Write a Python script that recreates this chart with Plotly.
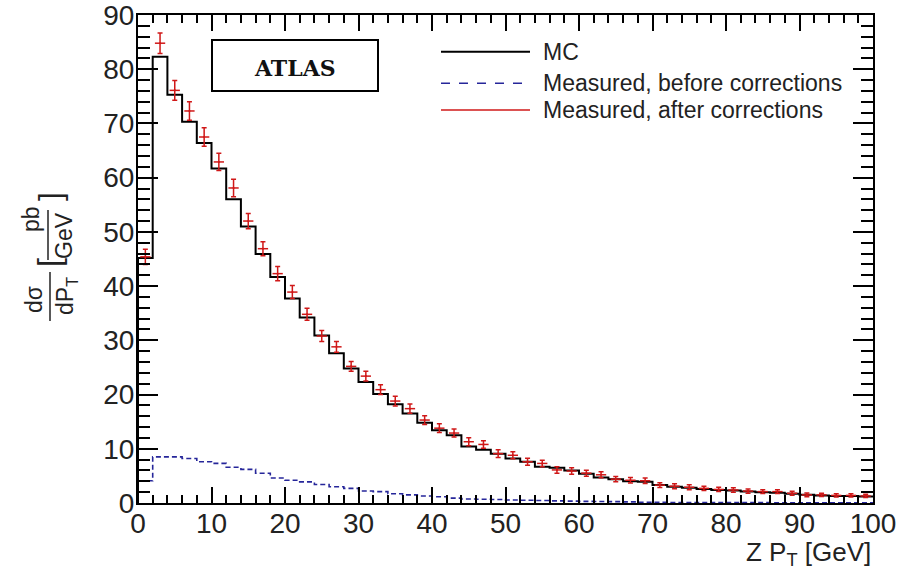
import numpy as np
import plotly.graph_objects as go

# ---------------- data ----------------
bin_width = 2.0
n_bins = 50

mc = [45.2, 82.3, 75.3, 70.3, 66.4, 61.7, 56.0, 51.0, 45.9, 41.7,
      37.7, 34.2, 30.9, 27.6, 24.8, 22.3, 20.1, 18.2, 16.5, 14.8,
      13.4, 12.5, 10.4, 9.8, 9.1, 8.2, 7.6, 6.7, 6.5, 6.0,
      5.4, 4.7, 4.4, 4.0, 3.9, 3.3, 3.0, 2.8, 2.6, 2.4,
      2.3, 2.1, 2.0, 1.9, 1.7, 1.5, 1.4, 1.3, 1.3, 1.2]

before = [4.1, 8.5, 8.5, 8.2, 7.6, 7.3, 6.6, 6.2, 5.5, 4.6,
          4.2, 3.9, 3.4, 3.0, 2.7, 2.2, 2.1, 1.7, 1.5, 1.3,
          1.15, 0.9, 0.75, 0.7, 0.65, 0.55, 0.5, 0.45, 0.4, 0.35,
          0.3, 0.28, 0.25, 0.2, 0.15, 0.12, 0.1, 0.1, 0.08, 0.08,
          0.07, 0.06, 0.06, 0.05, 0.05, 0.04, 0.04, 0.03, 0.03, 0.03]

after = [45.4, 84.8, 76.1, 72.3, 67.5, 62.9, 58.1, 52.0, 46.9, 42.3,
         38.9, 34.8, 30.8, 28.8, 25.2, 23.4, 20.9, 18.8, 17.4, 15.3,
         13.8, 12.9, 11.3, 10.8, 9.1, 8.8, 7.6, 7.3, 6.1, 5.9,
         5.5, 5.2, 4.4, 4.2, 4.1, 3.3, 3.1, 2.9, 2.7, 2.5,
         2.4, 2.2, 2.1, 2.1, 1.8, 1.5, 1.5, 1.4, 1.4, 1.3]

after_err = [1.4, 1.9, 1.8, 1.7, 1.7, 1.6, 1.6, 1.4, 1.3, 1.3,
             1.2, 1.1, 1.0, 1.0, 0.9, 0.9, 0.9, 0.9, 0.85, 0.8,
             0.8, 0.75, 0.75, 0.7, 0.7, 0.65, 0.65, 0.6, 0.6, 0.6,
             0.55, 0.55, 0.5, 0.5, 0.5, 0.45, 0.45, 0.45, 0.4, 0.4,
             0.4, 0.4, 0.35, 0.35, 0.35, 0.35, 0.3, 0.3, 0.3, 0.3]

x_ticks = [0, 10, 20, 30, 40, 50, 60, 70, 80, 90, 100]
y_ticks = [0, 10, 20, 30, 40, 50, 60, 70, 80, 90]

legend_labels = ["MC", "Measured, before corrections", "Measured, after corrections"]

# ---------------- derived ----------------
edges = np.arange(n_bins + 1) * bin_width
centers = edges[:-1] + bin_width / 2


def step_xy(vals):
    xs = np.concatenate([[edges[0]], edges])
    ys = np.concatenate([[0.0], vals, [vals[-1]]])
    return xs, ys


RED = "#d01818"
BLUE = "#26269a"
FONT = "Liberation Sans"
TXT = "#222222"

fig = go.Figure()

bx, by = step_xy(before)
fig.add_trace(go.Scatter(x=bx, y=by, mode="lines", line_shape="hv",
                         line=dict(color=BLUE, width=1.6, dash="5px,3px"),
                         name=legend_labels[1], showlegend=False))

mx, my = step_xy(mc)
fig.add_trace(go.Scatter(x=mx, y=my, mode="lines", line_shape="hv",
                         line=dict(color="black", width=2),
                         name=legend_labels[0], showlegend=False))

fig.add_trace(go.Scatter(x=centers, y=after, mode="markers",
                         marker=dict(color=RED, size=2),
                         error_y=dict(type="data", array=after_err, color=RED,
                                      thickness=1.5, width=2.5),
                         error_x=dict(type="constant", value=0.7, color=RED,
                                      thickness=1.5, width=0),
                         name=legend_labels[2], showlegend=False))

# ---------------- layout ----------------
L, R, T, B = 138, 39, 15, 67
W, H = 912, 570
PW, PH = W - L - R, H - T - B


def px(xp):
    return (xp - L) / PW


def py(yp):
    return (H - B - yp) / PH


fig.update_layout(
    width=W, height=H,
    margin=dict(l=L, r=R, t=T, b=B, autoexpand=False),
    paper_bgcolor="white", plot_bgcolor="white",
    showlegend=False,
    font=dict(family=FONT, color=TXT),
)

fig.update_xaxes(range=[0, 100], tickvals=x_ticks, automargin=False,
                 showgrid=False, zeroline=False,
                 showline=True, linecolor="black", linewidth=2, mirror="allticks",
                 ticks="inside", ticklen=16, tickwidth=1.5, tickcolor="black",
                 minor=dict(dtick=2, ticks="inside", ticklen=8, tickwidth=1.5,
                            tickcolor="black", showgrid=False),
                 ticklabelstandoff=-6, ticklabeloverflow="allow",
                 tickfont=dict(size=28, family=FONT, color=TXT))

fig.update_yaxes(range=[0, 90.0001], tickvals=y_ticks, automargin=False,
                 showgrid=False, zeroline=False,
                 showline=True, linecolor="black", linewidth=2, mirror="allticks",
                 ticks="inside", ticklen=20, tickwidth=1.5, tickcolor="black",
                 minor=dict(dtick=2, ticks="inside", ticklen=12, tickwidth=1.5,
                            tickcolor="black", showgrid=False),
                 ticklabelstandoff=-4, ticklabeloverflow="allow",
                 tickfont=dict(size=28, family=FONT, color=TXT))

shapes = []
annotations = []

# ATLAS box
shapes.append(dict(type="rect", xref="paper", yref="paper",
                   x0=px(212), x1=px(378), y0=py(91), y1=py(40),
                   line=dict(color="black", width=2), fillcolor="white", layer="above"))
annotations.append(dict(xref="paper", yref="paper", x=px(295), y=py(68),
                        text="<b>ATLAS</b>", showarrow=False,
                        font=dict(family="DejaVu Serif", size=22, color="#111111"),
                        xanchor="center", yanchor="middle"))

# manual legend
leg_rows = [51.7, 83.3, 110.0]
leg_styles = [dict(color="black", width=2),
              dict(color=BLUE, width=1.5, dash="dash"),
              dict(color=RED, width=1.5)]
for label, yrow, st in zip(legend_labels, leg_rows, leg_styles):
    shapes.append(dict(type="line", xref="paper", yref="paper",
                       x0=px(441), x1=px(530), y0=py(yrow), y1=py(yrow), line=st))
    annotations.append(dict(xref="paper", yref="paper", x=px(541), y=py(yrow),
                            text=label, showarrow=False, xanchor="left", yanchor="middle",
                            font=dict(family=FONT, size=23, color=TXT)))

# x-axis title
annotations.append(dict(xref="paper", yref="paper", x=1.0, y=py(553),
                        text="Z P<sub>T</sub> [GeV]", showarrow=False,
                        xanchor="right", yanchor="middle",
                        font=dict(family=FONT, size=26, color=TXT)))

# y-axis title: d sigma / dP_T [pb / GeV], rotated
yt_font = dict(family=FONT, size=23, color=TXT)
annotations.append(dict(xref="paper", yref="paper", x=px(34), y=py(299),
                        text="dσ", textangle=-90, showarrow=False,
                        xanchor="center", yanchor="middle", font=yt_font))
annotations.append(dict(xref="paper", yref="paper", x=px(66), y=py(296),
                        text="dP<sub>T</sub>", textangle=-90, showarrow=False,
                        xanchor="center", yanchor="middle", font=yt_font))
shapes.append(dict(type="line", xref="paper", yref="paper",
                   x0=px(50), x1=px(50), y0=py(272), y1=py(321),
                   line=dict(color=TXT, width=1.5)))
annotations.append(dict(xref="paper", yref="paper", x=px(49), y=py(263),
                        text="[", textangle=-90, showarrow=False,
                        xanchor="center", yanchor="middle",
                        font=dict(family=FONT, size=32, color=TXT)))
annotations.append(dict(xref="paper", yref="paper", x=px(31), y=py(219),
                        text="pb", textangle=-90, showarrow=False,
                        xanchor="center", yanchor="middle", font=yt_font))
annotations.append(dict(xref="paper", yref="paper", x=px(64), y=py(236),
                        text="GeV", textangle=-90, showarrow=False,
                        xanchor="center", yanchor="middle", font=yt_font))
shapes.append(dict(type="line", xref="paper", yref="paper",
                   x0=px(48), x1=px(48), y0=py(210), y1=py(260),
                   line=dict(color=TXT, width=1.5)))
annotations.append(dict(xref="paper", yref="paper", x=px(50), y=py(197),
                        text="]", textangle=-90, showarrow=False,
                        xanchor="center", yanchor="middle",
                        font=dict(family=FONT, size=32, color=TXT)))

fig.update_layout(shapes=shapes, annotations=annotations)

fig.write_html("out.html")
